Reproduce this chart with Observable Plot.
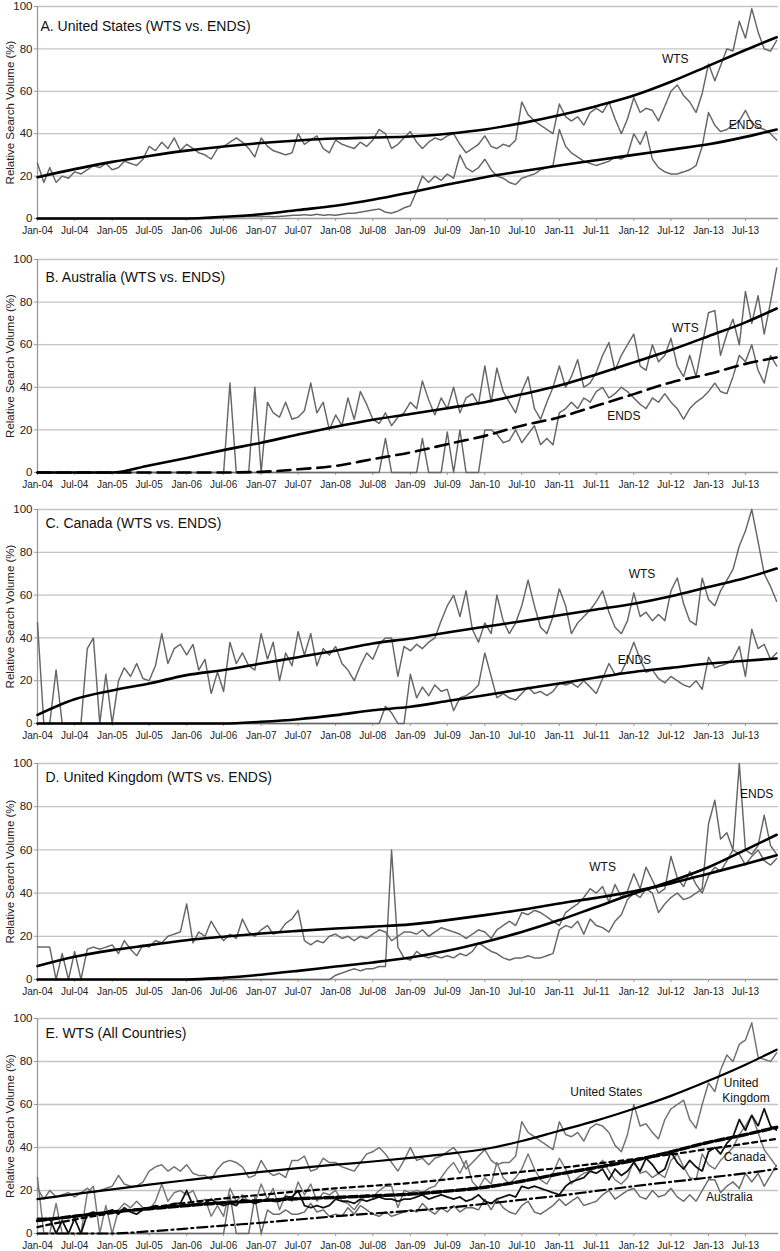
<!DOCTYPE html>
<html><head><meta charset="utf-8">
<script src="https://cdn.jsdelivr.net/npm/d3@7"></script>
<script src="https://cdn.jsdelivr.net/npm/@observablehq/plot@0.6"></script>
<style>
body{margin:0;background:#fff;}
#chart{width:780px;}
#chart svg{display:block;}
</style></head><body><div id="chart"></div>
<script>
// ---------- monthly series (Jan-04 .. Dec-13), one row per year ----------
const usWTS = [
26,17,24,17,20,19,22,21,23,25,24,26,
23,24,27,26,25,28,34,32,36,33,38,32,
35,33,31,30,28,33,34,36,38,36,33,29,
38,34,32,31,30,31,40,35,37,39,33,31,
37,35,34,33,36,34,37,42,40,33,35,38,
41,36,33,36,38,37,39,40,35,31,33,35,
39,34,33,35,34,37,55,49,46,44,42,40,
54,48,46,48,44,50,52,50,55,47,40,47,
57,50,52,51,46,53,60,63,58,55,50,59,
73,65,72,80,79,93,85,99,88,80,79,84];
const usENDS = [
0,0,0,0,0,0,0,0,0,0,0,0,
0,0,0,0,0,0,0,0,0,0,0,0,
0,0,0,0,0,0.5,0.5,1,1,0.8,1,1,
1,1,0.8,1,1.2,1.5,1.5,1.8,1.5,2,1.5,1.8,
1.5,2,2.5,2.5,3,3.5,4,4.5,3,2.5,3.5,5,
6,13,20,17,20,18,21,19,30,24,22,24,
28,23,20,19,17,16,19,20,21,23,24,25,
42,34,31,29,27,26,25,26,27,29,28,30,
40,35,41,28,24,22,21,21,22,23,25,34,
50,44,41,42,44,46,51,45,43,42,40,37];
const auWTS = [
0,0,0,0,0,0,0,0,0,0,0,0,
0,0,0,0,0,0,0,0,0,0,0,0,
0,0,0,0,0,0,0,42,0,0,0,40,
0,33,28,26,33,25,26,29,42,28,33,20,
27,22,35,25,38,32,25,23,28,22,26,28,
33,30,43,34,27,35,30,40,28,35,37,32,
50,33,49,38,33,28,38,45,30,25,33,40,
50,40,45,53,40,42,47,55,61,48,55,60,
65,50,48,60,52,55,63,50,45,55,45,60,
75,76,55,65,72,60,85,70,83,65,80,96];
const auENDS = [
0,0,0,0,0,0,0,0,0,0,0,0,
0,0,0,0,0,0,0,0,0,0,0,0,
0,0,0,0,0,0,0,0,0,0,0,0,
0,0,0,0,0,0,0,0,0,0,0,0,
0,0,0,0,0,0,0,0,16,0,0,0,
0,0,16,0,0,0,19,0,20,0,0,0,
20,20,18,14,15,20,14,18,22,13,16,13,
28,30,33,30,35,33,38,40,35,37,40,38,
35,32,30,35,33,37,33,30,25,30,33,35,
38,42,38,37,45,55,52,60,48,42,55,50];
const caWTS = [
47,0,0,25,0,0,0,0,35,40,0,23,
0,20,26,22,28,21,20,27,42,28,35,37,
32,37,25,30,14,24,15,38,28,33,27,25,
42,30,38,20,33,27,43,32,42,27,35,32,
36,28,25,20,27,33,30,37,40,40,22,36,
34,37,35,38,40,48,55,60,50,62,44,38,
47,42,60,48,42,47,55,67,55,45,42,50,
63,55,42,47,50,53,57,62,52,45,42,48,
61,50,52,48,51,48,62,68,56,48,46,68,
58,55,62,67,72,83,90,100,85,70,64,57];
const caENDS = [
0,0,0,0,0,0,0,0,0,0,0,0,
0,0,0,0,0,0,0,0,0,0,0,0,
0,0,0,0,0,0,0,0,0,0,0,0,
0,0,0,0,0,0,0,0,0,0,0,0,
0,0,0,0,0,0,0,0,8,5,0,0,
23,12,17,13,18,15,16,6,12,13,15,18,
33,22,12,14,12,11,14,17,14,15,13,15,
19,18,19,17,20,17,14,21,28,23,24,30,
38,30,24,25,21,19,22,20,18,17,20,16,
31,26,27,28,30,36,22,44,35,37,30,33];
const ukWTS = [
15,15,15,0,12,0,13,0,14,15,14,15,
16,12,18,14,11,16,15,18,17,20,21,22,
35,17,22,20,27,22,18,21,19,28,22,20,
23,25,21,22,26,28,32,18,16,18,17,20,
21,19,20,18,20,19,21,23,22,18,20,22,
22,21,23,20,22,24,23,22,21,19,21,23,
22,19,23,25,27,25,31,30,32,31,29,27,
25,31,33,35,38,42,40,43,36,44,38,41,
49,42,52,46,40,42,57,47,43,50,44,40,
48,52,50,55,60,58,53,57,60,55,53,56];
const ukENDS = [
0,0,0,0,0,0,0,0,0,0,0,0,
0,0,0,0,0,0,0,0,0,0,0,0,
0,0,0,0,0,0,0,0,0,0,0,0,
0,0,0,0,0,0,0,0,0,0,0,0,
2,3,4,5,4,5,5,6,6,60,15,10,
9,13,11,10,11,10,11,10,12,11,13,17,
15,13,12,10,9,10,10,11,10,10,11,12,
23,25,24,27,21,28,25,24,22,27,30,37,
40,38,42,40,31,35,38,40,37,38,40,42,
72,83,65,68,60,100,60,58,62,76,62,58];
// panel E (WTS, all countries)
const eUS = [
21,16,20,17,18,19,17,19,21,19,20,21,
22,27,23,22,22,24,29,31,32,29,31,29,
32,28,27,27,25,30,33,34,33,31,26,27,
34,29,27,28,26,34,34,36,29,30,35,33,
33,31,30,29,33,37,38,40,37,33,29,34,
40,34,35,32,35,36,38,40,36,30,33,36,
39,34,32,33,33,36,52,47,45,43,41,39,
52,46,45,47,43,49,51,50,47,41,38,46,
60,50,51,47,44,53,58,60,62,53,49,60,
70,66,76,83,80,88,90,98,82,81,80,84];
const eUK = [
7,7,7,0,6,0,7,0,9,10,9,10,
11,9,12,10,9,11,12,13,12,13,14,14,
20,13,14,14,16,14,13,14,13,16,15,14,
15,16,15,15,17,17,20,13,12,13,12,13,
16,15,15,14,16,15,16,17,16,16,15,16,
16,17,18,16,17,18,17,16,17,15,16,18,
15,14,16,17,18,17,22,21,22,21,20,19,
18,22,24,25,26,29,28,30,25,30,27,29,
33,29,35,32,28,30,38,33,30,34,31,29,
38,40,37,42,45,53,48,55,50,58,50,48];
const eCA = [
26,0,0,14,0,0,0,0,19,22,0,13,
0,11,14,12,15,12,11,15,23,15,19,20,
18,20,14,16,8,13,8,21,15,18,15,14,
23,16,21,11,18,15,24,18,23,15,19,18,
20,15,14,11,15,18,17,20,22,22,12,20,
19,20,19,21,22,26,30,33,28,34,24,21,
26,23,33,26,23,26,30,37,30,25,23,28,
35,30,23,26,28,29,31,34,29,25,23,26,
34,28,29,26,28,26,34,37,31,26,25,37,
32,30,34,37,40,46,50,55,47,39,35,31];
const eAU = [
0,0,0,0,0,0,0,0,0,0,0,0,
0,0,0,0,0,0,0,0,0,0,0,0,
0,0,0,0,0,0,0,18,0,0,0,17,
0,11,9,9,11,9,9,10,14,10,11,8,
9,8,12,9,13,11,9,8,10,8,9,10,
11,10,14,11,9,12,10,13,10,12,12,11,
16,11,16,12,10,9,13,15,10,9,11,13,
16,13,15,17,13,14,15,18,20,16,18,20,
21,17,16,20,17,18,21,17,15,18,15,20,
25,25,19,22,24,21,28,24,28,22,27,32];

// ---------- trend lines, read at Jan/Jul of each year + Dec-13 ----------
const trUS_WTS  = [19.5,23.3,26.7,29.5,32,34,35.6,36.8,37.7,38.2,38.7,40,42,45,48.7,53,58,64.5,72,79.5,85.5];
const trUS_ENDS = [0,0,0,0,0,0.8,2,4,6,8.8,12.3,16,19.5,22.3,25,27.5,30,32.5,35,38.5,42];
const trAU_WTS  = [0,0,0,3.3,6.8,10.5,14,17.8,21.5,24.8,27.5,30.2,33,36.7,40.8,46,51.7,57.5,64,70.5,77];
const trAU_ENDS = [0,0,0,0,0,0,0.3,1.5,3.1,6.3,9.4,13.3,17.2,22,25.9,31.3,36.8,42.3,46.2,51,54];
const trCA_WTS  = [4,11.3,15.4,18.7,22.6,25,28,31,34,37.4,39.7,42.5,45.2,47.8,50.6,53.3,56,59.5,63.8,68,72.4];
const trCA_ENDS = [0,0,0,0,0,0,0.8,2,3.9,6.2,7.8,10.5,13.2,16,18.7,21.5,24.1,26,28,29.3,30.4];
const trUK_WTS  = [6.2,10.5,13.6,15.9,18.2,19.8,21.3,22.5,23.6,24.5,25.5,27.5,29.8,32.3,35.2,37.8,40.8,44.5,49,53.5,57.5];
const trUK_ENDS = [0,0,0,0,0,0.8,2.2,4,6,7.9,10.2,13.3,17.4,22,27.5,33.6,39.8,45.5,52,60,67];
const trE_US = [16,18.3,20.5,22.7,24.8,26.8,28.7,30.4,32,33.5,35.2,37,39.3,43,47.8,52.5,58,64,71,78.5,85.5];
const trE_UK = [6,8,10,11.5,13,14.3,15.3,16.2,16.8,17.5,18.3,19.7,21.5,24.3,27.7,30.7,34,38,42.4,46,49.4];
const trE_CA = [3,6.5,9.5,12,14.3,16.3,18,19.6,21,22.2,23.5,25.2,27,28.7,30.5,32.5,34.6,36.8,39.3,41.8,44];
const trE_AU = [0,0,0,1,2.3,3.7,5,6.5,8,9.3,10.5,12,13.8,15.7,17.6,19.8,22,24,26,28,30];

// ---------- tick labels ----------
const monthNames = ["Jan","Feb","Mar","Apr","May","Jun","Jul","Aug","Sep","Oct","Nov","Dec"];
const yTicks = [0,20,40,60,80,100];

const monthDates = d3.range(120).map(i => new Date(Date.UTC(2004, i, 1)));
const trendDates = d3.range(20).map(i => new Date(Date.UTC(2004, i*6, 1))).concat([new Date(Date.UTC(2013, 11, 1))]);
const tickDates = d3.range(20).map(i => new Date(Date.UTC(2004, i*6, 1)));
const xDomain = [new Date(Date.UTC(2004,0,1)), new Date(Date.UTC(2013,11,10))];
const fmt = d => monthNames[d.getUTCMonth()] + "-" + String(d.getUTCFullYear()).slice(2);
const monthPos = m => new Date(Date.UTC(2004, Math.floor(m), 1 + Math.round((m % 1) * 30)));

const GRAY = "#666";
const FONT = "'Liberation Sans', Arial, sans-serif";

const panels = [
  {h:247, mt:6, mb:29, title:"A. United States (WTS vs. ENDS)", tdx:3, tdy:15,
   series:[{v:usWTS},{v:usENDS}],
   trends:[{v:trUS_WTS},{v:trUS_ENDS}],
   labels:[{t:"WTS", m:102.7, y:75},{t:"ENDS", m:114, y:44}]},
  {h:250, mt:12, mb:25, title:"B. Australia (WTS vs. ENDS)", tdx:8, tdy:13,
   series:[{v:auWTS},{v:auENDS}],
   trends:[{v:trAU_WTS},{v:trAU_ENDS, dash:"13,7"}],
   labels:[{t:"WTS", m:104.3, y:67.6},{t:"ENDS", m:94.4, y:26.3}]},
  {h:252, mt:12, mb:26, title:"C. Canada (WTS vs. ENDS)", tdx:8, tdy:9,
   series:[{v:caWTS},{v:caENDS}],
   trends:[{v:trCA_WTS},{v:trCA_ENDS}],
   labels:[{t:"WTS", m:97.3, y:70},{t:"ENDS", m:96.1, y:29.4}]},
  {h:254, mt:14, mb:24, title:"D. United Kingdom (WTS vs. ENDS)", tdx:8, tdy:9,
   series:[{v:ukWTS},{v:ukENDS}],
   trends:[{v:trUK_WTS},{v:trUK_ENDS}],
   labels:[{t:"WTS", m:91, y:52},{t:"ENDS", m:115.8, y:86}]},
  {h:248, mt:15, mb:18, title:"E. WTS (All Countries)", tdx:8, tdy:10,
   series:[{v:eCA, c:"#777"},{v:eAU, c:"#6a6a6a"},{v:eUS, c:"#707070"},{v:eUK, c:"#111", w:1.8}],
   trends:[{v:trE_US, w:2.2},{v:trE_UK, w:3.4, dash:"9,3"},{v:trE_CA, w:2.2, dash:"5,4"},{v:trE_AU, w:2.2, dash:"10,4,2,4"}],
   labels:[{t:"United States", m:91.6, y:65.6},{t:"United", m:113.3, y:69.8},{t:"Kingdom", m:114.1, y:62.8},
           {t:"Canada", m:113.9, y:35.3},{t:"Australia", m:111.4, y:16.7}]}
];

const root = document.getElementById("chart");
for (const p of panels) {
  const marks = [
    Plot.gridY(yTicks.slice(1), {stroke:"#c4c4c4", strokeOpacity:1, strokeWidth:1.3}),
    Plot.ruleY([0], {stroke:"#9a9a9a", strokeWidth:1.3}),
    Plot.ruleX([xDomain[0]], {y1:0, y2:100, stroke:"#9a9a9a", strokeWidth:1.3}),
    Plot.axisY({ticks:yTicks, tickSize:3, tickPadding:2, fontSize:11.5, stroke:"#9a9a9a",
      label:"Relative Search Volume (%)", labelAnchor:"center", labelArrow:"none", labelOffset:32}),
    Plot.axisX({ticks:tickDates, tickFormat:fmt, tickSize:3, tickPadding:5, fontSize:10, stroke:"#9a9a9a", label:null}),
  ];
  for (const s of p.series) {
    marks.push(Plot.line(s.v.map((v,i)=>({date:monthDates[i], v})),
      {x:"date", y:"v", stroke:s.c || GRAY, strokeWidth:s.w || 1.5, strokeDasharray:"1.3,0.8"}));
  }
  for (const t of p.trends) {
    marks.push(Plot.line(t.v.map((v,i)=>({date:trendDates[i], v})),
      {x:"date", y:"v", stroke:"#000", strokeWidth:t.w || 2.6, curve:"monotone-x",
       strokeDasharray:t.dash || null}));
  }
  marks.push(Plot.text([p.title], {text:d=>d, frameAnchor:"top-left", dx:p.tdx, dy:p.tdy,
     fontSize:14, lineAnchor:"top", textAnchor:"start", fill:"#111"}));
  marks.push(Plot.text(p.labels.map(l=>({date:monthPos(l.m), v:l.y, t:l.t})),
     {x:"date", y:"v", text:"t", fontSize:12, fill:"#111"}));

  const svg = Plot.plot({
    width:780, height:p.h,
    marginLeft:37, marginRight:2, marginTop:p.mt, marginBottom:p.mb,
    style:{fontFamily:FONT, fontSize:"12px", color:"#222", background:"#fff"},
    x:{type:"utc", domain:xDomain},
    y:{domain:[0,100]},
    marks
  });
  root.appendChild(svg);
}
</script>
</body></html>
